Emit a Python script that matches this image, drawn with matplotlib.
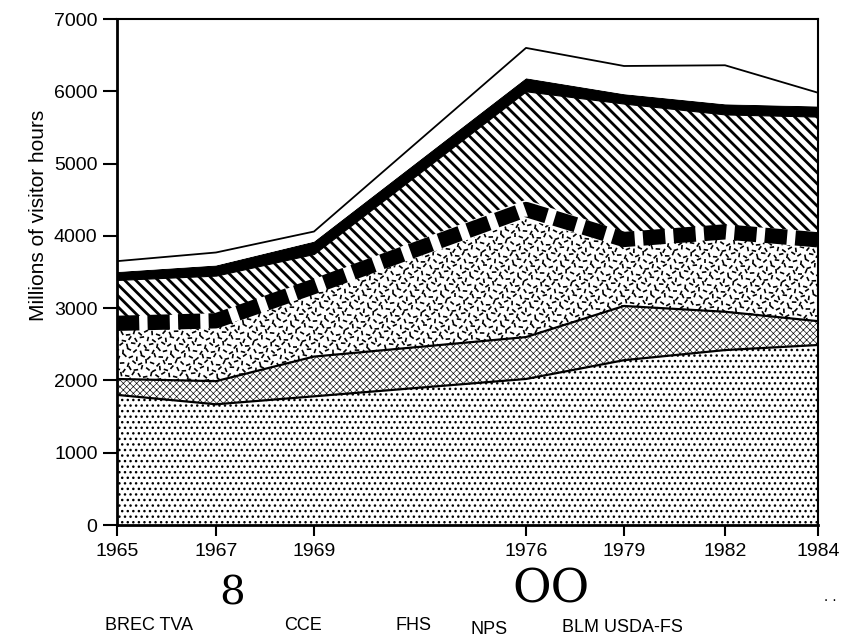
import numpy as np
import matplotlib
matplotlib.use("Agg")
import matplotlib.pyplot as plt
from matplotlib.collections import LineCollection
from matplotlib.transforms import IdentityTransform

# values (millions of visitor hours), stacked bottom -> top
years = [1965, 1967, 1969, 1976, 1979, 1982, 1984]
layer1 = [1800, 1670, 1780, 2020, 2280, 2420, 2490]   # fine stipple
layer2 = [220, 320, 550, 580, 750, 530, 330]          # grey check
layer3 = [680, 730, 870, 1630, 820, 1010, 1010]       # random dashes
layer4 = [180, 210, 200, 270, 200, 190, 230]          # heavy dashed band
layer5 = [510, 520, 350, 1500, 1780, 1530, 1590]      # diagonal hatch
layer6 = [110, 140, 170, 180, 130, 140, 140]          # solid black
layer7 = [150, 180, 140, 420, 390, 540, 190]          # white
yticks = [0, 1000, 2000, 3000, 4000, 5000, 6000, 7000]
bottom_labels = ["BREC TVA", "CCE", "FHS", "NPS", "BLM USDA-FS"]

# the year axis is not linear in the original: pixel offsets of each tick
x_axis_pos = [0, 99, 197, 409, 507, 608, 701]

plt.rcParams['font.family'] = ['Liberation Sans', 'DejaVu Sans']

def fwd(x):
    return np.interp(x, years, x_axis_pos)

def inv(p):
    return np.interp(p, x_axis_pos, years)

fig = plt.figure(figsize=(8.46, 6.42), dpi=100)
ax = fig.add_axes([117 / 846, 1 - 525 / 642, 701 / 846, 506 / 642])
ax.set_xscale('function', functions=(fwd, inv))
ax.set_xlim(1965, 1984)
ax.set_ylim(0, 7000)

tops = np.cumsum([layer1, layer2, layer3, layer4, layer5, layer6, layer7], axis=0)
zero = np.zeros(len(years))


def hatch_fill(lo, hi, hatch, hlw):
    with plt.rc_context({'hatch.linewidth': hlw}):
        pc = ax.fill_between(years, lo, hi, facecolor='white', edgecolor='black',
                             hatch=hatch, linewidth=0)
    if hasattr(pc, 'set_hatch_linewidth'):
        pc.set_hatch_linewidth(hlw)
    return pc


# bottom stipple
hatch_fill(zero, tops[0], '...', 1.0)
# grey check
hatch_fill(tops[0], tops[1], 'xxxxx', 0.45)
# random dashes (white base + short dashes clipped to the band)
dash_poly = ax.fill_between(years, tops[1], tops[2], facecolor='white', linewidth=0)
fig.canvas.draw()
bb = ax.get_window_extent()
segs = []
step, length = 6.0, 4.5
for i, x in enumerate(np.arange(bb.x0, bb.x1 + step, step)):
    for j, y in enumerate(np.arange(bb.y0, bb.y1 + step, step)):
        ang = np.deg2rad((i * 67 + j * 131) % 180)
        cx = x + ((i * 5 + j * 3) % 5 - 2) * 0.9
        cy = y + ((i * 3 + j * 7) % 5 - 2) * 0.9
        dx, dy = np.cos(ang) * length / 2, np.sin(ang) * length / 2
        segs.append([(cx - dx, cy - dy), (cx + dx, cy + dy)])
lc = LineCollection(segs, colors='black', linewidths=1.2, transform=IdentityTransform())
lc.set_clip_path(dash_poly.get_paths()[0], dash_poly.get_transform())
ax.add_collection(lc, autolim=False)

# heavy dashed band
ax.fill_between(years, tops[2], tops[3], facecolor='white', linewidth=0)
mid = (tops[2] + tops[3]) / 2
lw_band = 11
ax.plot(years, mid, color='black', linewidth=lw_band, solid_capstyle='butt',
        dash_capstyle='butt', dashes=(16 / lw_band, 6 / lw_band))

# diagonal hatch
hatch_fill(tops[3], tops[4], '\\\\\\', 2.0)
# solid black band
ax.fill_between(years, tops[4], tops[5], facecolor='black', edgecolor='black', linewidth=0.8)
# white top band
ax.fill_between(years, tops[5], tops[6], facecolor='white', linewidth=0)

# boundary lines
ax.plot(years, tops[0], color='black', linewidth=1.6)
ax.plot(years, tops[1], color='black', linewidth=1.6)
ax.plot(years, tops[6], color='black', linewidth=1.3)

# axes styling
for side in ['left', 'bottom']:
    ax.spines[side].set_linewidth(2.0)
for side in ['top', 'right']:
    ax.spines[side].set_linewidth(1.5)
ax.set_xticks(years)
ax.set_xticklabels([str(y) for y in years])
ax.set_yticks(yticks)
ax.set_yticklabels([str(v) for v in yticks])
ax.tick_params(axis='y', direction='out', length=10, width=1.5, pad=4, labelsize=14)
ax.tick_params(axis='x', direction='out', length=8, width=1.5, pad=5, labelsize=14)
ax.minorticks_off()

fig.text(38 / 846, 1 - 215 / 642, "Millions of visitor hours", rotation=90,
         ha='center', va='center', fontsize=15)

# stray glyphs and labels below the chart
fig.text(232 / 846, 1 - 594 / 642, "8", family='DejaVu Serif', fontsize=29,
         ha='center', va='center')
fig.text(551 / 846, 1 - 590 / 642, "OO", family='DejaVu Serif', fontsize=34,
         ha='center', va='center')
fig.text(830 / 846, 1 - 597 / 642, ". .", fontsize=11, ha='center', va='center')
label_x = [149, 303, 413, 489, 622]
label_y = [625, 625, 625, 629, 627]
for lab, lx, ly in zip(bottom_labels, label_x, label_y):
    fig.text(lx / 846, 1 - ly / 642, lab, fontsize=13, ha='center', va='center')

fig.savefig("out.png", dpi=100, facecolor='white')
